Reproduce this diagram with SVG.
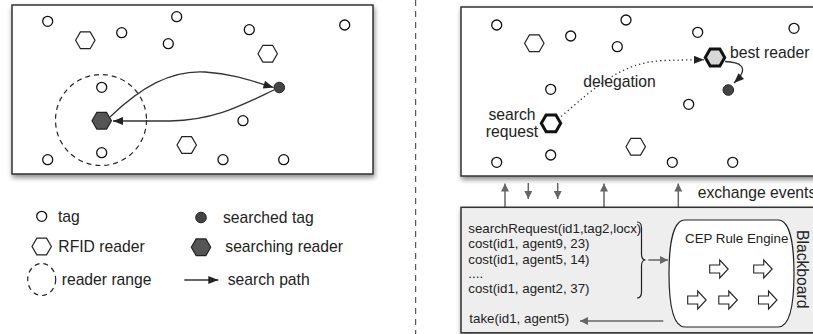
<svg xmlns="http://www.w3.org/2000/svg" xmlns:xlink="http://www.w3.org/1999/xlink" width="813" height="334" viewBox="0 0 813 334">
<style>
text{font-family:"Liberation Sans",Arial,Helvetica,sans-serif;fill:#222}
.lg{font-size:15.7px}
.sm{font-size:13.3px}
.box{fill:#fff;stroke:#333;stroke-width:1.5}
.tag{fill:#fff;stroke:#111;stroke-width:1.3}
.hex{fill:#fff;stroke:#222;stroke-width:1.2}
.dark{fill:#555;stroke:#222;stroke-width:1.2}
.path{fill:none;stroke:#333;stroke-width:1.3}
.garr{fill:none;stroke:#666;stroke-width:1.5}
.blk{fill:#fff;stroke:#222;stroke-width:1.1}
</style>
<defs>
<filter id="sh" x="-5%" y="-5%" width="115%" height="125%">
<feDropShadow dx="1" dy="3" stdDeviation="2.5" flood-color="#000" flood-opacity="0.45"/>
</filter>
<polygon id="hx" points="-9.7,0 -4.85,-8.4 4.85,-8.4 9.7,0 4.85,8.4 -4.85,8.4"/>
<path id="ba" d="M-9,-4 L1,-4 L1,-9 L9.5,0 L1,9 L1,4 L-9,4 Z"/>
<marker id="ah" viewBox="0 0 10 8" refX="10" refY="4" markerWidth="11" markerHeight="8" markerUnits="userSpaceOnUse" orient="auto">
<path d="M0,0 L10,4 L0,8 Z" fill="#222"/>
</marker>
<marker id="ag" viewBox="0 0 8 8" refX="8" refY="4" markerWidth="8" markerHeight="8" markerUnits="userSpaceOnUse" orient="auto">
<path d="M0,0 L8,4 L0,8 Z" fill="#666"/>
</marker>
</defs>

<!-- separator -->
<line x1="415.7" y1="0" x2="415.7" y2="334" stroke="#333" stroke-width="1" stroke-dasharray="6,5"/>

<!-- LEFT PANEL -->
<g id="left-field">
<rect class="box" x="12" y="5" width="361" height="169" filter="url(#sh)"/>
</g>
<g id="left-range"><circle cx="101" cy="120" r="45.5" fill="none" stroke="#222" stroke-width="1.2" stroke-dasharray="5,4"/></g>
<g id="left-tags">
<circle class="tag" cx="47.7" cy="21.3" r="5"/>
<circle class="tag" cx="121.7" cy="32.7" r="5"/>
<circle class="tag" cx="176.7" cy="16.7" r="5"/>
<circle class="tag" cx="168.3" cy="43.7" r="5"/>
<circle class="tag" cx="249.3" cy="29.7" r="5"/>
<circle class="tag" cx="344.7" cy="25" r="5"/>
<circle class="tag" cx="101.7" cy="87.3" r="5"/>
<circle class="tag" cx="243" cy="120.7" r="5"/>
<circle class="tag" cx="101.7" cy="152.7" r="5"/>
<circle class="tag" cx="47.7" cy="159.7" r="5"/>
<circle class="tag" cx="223" cy="159.7" r="5"/>
<circle class="tag" cx="283.7" cy="159.7" r="5"/>
</g>
<g id="left-readers">
<use xlink:href="#hx" class="hex" x="85.3" y="40.3"/>
<use xlink:href="#hx" class="hex" x="267.7" y="53.7"/>
<use xlink:href="#hx" class="hex" x="186.7" y="145"/>
</g>
<g id="searching-reader"><use xlink:href="#hx" class="dark" x="101.7" y="120.7"/></g>
<g id="searched-tag-left"><circle cx="279.3" cy="87.5" r="5.3" fill="#444" stroke="#222" stroke-width="1"/></g>
<g id="left-connectors">
<path class="path" d="M110,117 C140,88 170,70 205,72 C235,74 255,82 273.5,87.5" marker-end="url(#ah)"/>
<path class="path" d="M274,90 C240,106 215,120 170,121 L113,121" marker-end="url(#ah)"/>
</g>

<!-- LEGEND -->
<g id="legend">
<circle class="tag" cx="41.7" cy="216.3" r="5"/>
<text class="lg" x="58" y="222">tag</text>
<use xlink:href="#hx" class="hex" x="41.7" y="246.5"/>
<text class="lg" x="58.3" y="252.3">RFID reader</text>
<ellipse cx="41.7" cy="279.5" rx="14" ry="16" fill="none" stroke="#222" stroke-width="1.2" stroke-dasharray="5,4"/>
<text class="lg" x="61.7" y="285">reader range</text>
<circle cx="201" cy="217.5" r="5.3" fill="#444" stroke="#222" stroke-width="1"/>
<text class="lg" x="223" y="222.5">searched tag</text>
<use xlink:href="#hx" class="dark" x="201" y="247.3"/>
<text class="lg" x="225.3" y="252.3">searching reader</text>
<line class="path" x1="184.3" y1="280" x2="218.3" y2="280" marker-end="url(#ah)"/>
<text class="lg" x="227.7" y="285">search path</text>
</g>

<!-- RIGHT PANEL -->
<g id="right-field">
<rect class="box" x="461" y="7" width="400" height="169" filter="url(#sh)"/>
</g>
<g id="right-tags">
<circle class="tag" cx="496.7" cy="25" r="5"/>
<circle class="tag" cx="570.7" cy="36" r="5"/>
<circle class="tag" cx="626" cy="20" r="5"/>
<circle class="tag" cx="617.3" cy="46.7" r="5"/>
<circle class="tag" cx="697.7" cy="32.3" r="5"/>
<circle class="tag" cx="794" cy="28.3" r="5"/>
<circle class="tag" cx="550.7" cy="89.3" r="5"/>
<circle class="tag" cx="688.7" cy="104.3" r="5"/>
<circle class="tag" cx="550.7" cy="155" r="5"/>
<circle class="tag" cx="496.7" cy="162.3" r="5"/>
<circle class="tag" cx="672.3" cy="162.3" r="5"/>
<circle class="tag" cx="732.7" cy="162.3" r="5"/>
</g>
<g id="right-readers">
<use xlink:href="#hx" class="hex" x="534.3" y="43.3"/>
<use xlink:href="#hx" class="hex" x="635.7" y="146.7"/>
</g>
<g id="search-request">
<use xlink:href="#hx" x="551" y="123.3" fill="#fff" stroke="#111" stroke-width="3"/>
<text class="lg" x="512" y="120" text-anchor="middle">search</text>
<text class="lg" x="512" y="136.7" text-anchor="middle">request</text>
</g>
<g id="best-reader">
<use xlink:href="#hx" x="715" y="57.5" fill="#d8d8d8" stroke="#111" stroke-width="3"/>
<text class="lg" x="730" y="57.5">best reader</text>
</g>
<g id="searched-tag-right"><circle cx="728.3" cy="90" r="5.3" fill="#444" stroke="#222" stroke-width="1"/></g>
<g id="right-connectors">
<path d="M561,116.5 C595,88 620,62 665,60.5 C680,60 690,59.8 704,59.8" fill="none" stroke="#333" stroke-width="1.3" stroke-dasharray="1.3,3" marker-end="url(#ah)"/>
<text class="lg" x="583.3" y="87">delegation</text>
<path class="path" d="M725,61.5 C738,62 752,66 734,83" marker-end="url(#ah)"/>
</g>

<!-- exchange arrows -->
<g id="exchange">
<line class="garr" x1="505" y1="207" x2="505" y2="183.5" marker-end="url(#ag)"/>
<line class="garr" x1="528.3" y1="183" x2="528.3" y2="199" marker-end="url(#ag)"/>
<line class="garr" x1="557.7" y1="183" x2="557.7" y2="199" marker-end="url(#ag)"/>
<line class="garr" x1="604" y1="207" x2="604" y2="183.5" marker-end="url(#ag)"/>
<line class="garr" x1="678.3" y1="207" x2="678.3" y2="183.5" marker-end="url(#ag)"/>
<text class="lg" x="697.7" y="197.5">exchange events</text>
</g>

<!-- BLACKBOARD -->
<g id="blackboard">
<rect x="461" y="207.3" width="400" height="125.5" fill="#eee" stroke="#333" stroke-width="1.5" filter="url(#sh)"/>
<text class="sm" x="468.3" y="232.7">searchRequest(id1,tag2,locx)</text>
<text class="sm" x="468.3" y="248.3">cost(id1, agent9, 23)</text>
<text class="sm" x="468.3" y="264">cost(id1, agent5, 14)</text>
<text class="sm" x="468.3" y="278.3">....</text>
<text class="sm" x="468.3" y="293.3">cost(id1, agent2, 37)</text>
<text class="sm" x="469.3" y="322.7">take(id1, agent5)</text>
<path d="M637,222 Q641.5,222 641.5,228 L641.5,254 Q641.5,260 645.5,260 Q641.5,260 641.5,266 L641.5,292 Q641.5,298 637,298" fill="none" stroke="#222" stroke-width="1.2"/>
<text class="lg" transform="translate(797,230) rotate(90)">Blackboard</text>
</g>
<g id="cep-engine">
<path d="M685,220 L778,220 C790,220 794,245 794,273.5 C794,303 790,327 778,327 L685,327 C673,327 669,303 669,273.5 C669,245 673,220 685,220 Z" fill="#fff" stroke="#222" stroke-width="1.2"/>
<text class="sm" x="736.7" y="243.3" text-anchor="middle">CEP Rule Engine</text>
<use xlink:href="#ba" class="blk" x="718.7" y="269"/>
<use xlink:href="#ba" class="blk" x="762.7" y="269"/>
<use xlink:href="#ba" class="blk" x="696.7" y="300"/>
<use xlink:href="#ba" class="blk" x="727.8" y="300"/>
<use xlink:href="#ba" class="blk" x="767.5" y="300"/>
</g>
<g id="bb-connectors">
<line class="garr" x1="648.3" y1="260" x2="668" y2="260" marker-end="url(#ag)"/>
<line class="garr" x1="663.3" y1="321" x2="580" y2="321" marker-end="url(#ag)"/>
</g>
</svg>
